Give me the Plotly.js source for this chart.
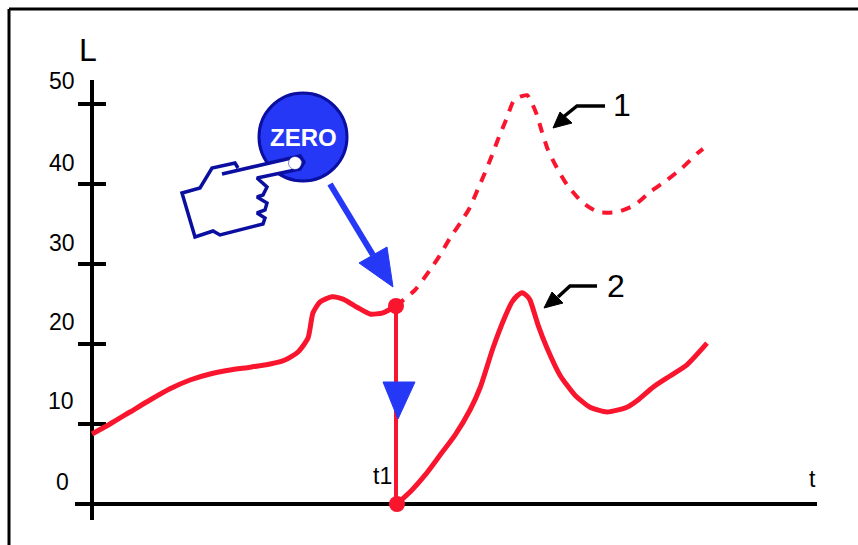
<!DOCTYPE html>
<html>
<head>
<meta charset="utf-8">
<script src="https://cdn.plot.ly/plotly-3.0.1.min.js"></script>
<style>html,body{margin:0;padding:0;background:#fff;overflow:hidden}#c{width:858px;height:545px}</style>
</head>
<body>
<div id="c"></div>
<script>
// Curves: t position and L value
var beforeT = [92,110,130,150,170,190,210,230,250,270,285,298,308,313,320,332,343,357,370,383,396];
var beforeL = [8.75,10,11.5,13,14.4,15.5,16.25,16.75,17.1,17.5,18,19,20.75,23.9,25.25,25.9,25.6,24.6,23.75,23.9,24.75];
var curve1T = [396,415,430,440,450,461,470,478,485,492,499,506,513,517,527,532,537,542,548,557,567,582,598,617,635,650,667,682,698,703];
var curve1L = [24.75,26.75,29.25,31.1,33.25,35.25,37.1,39.4,41.4,43.6,45.9,48,50.25,50.75,51.1,50.1,48.6,46.5,44.25,42,39.9,37.75,36.5,36.5,37.4,39,40.5,42,43.9,44.4];
var curve2T = [397,412,425,440,455,470,480,493,505,512,517,522,527,530,538,547,560,575,590,607,627,638,653,670,687,707];
var curve2L = [0,1.75,3.6,6.1,8.6,11.75,14.5,19.5,23.4,25.25,26,26.4,26,25.5,22.4,19.5,16.1,13.6,12.1,11.5,12.1,13,14.6,16,17.4,20.1];
var t1 = 396;
var t1Top = 24.75;
var tickValues = [10,20,30,40,50];
var tickLabels = ["0","10","20","30","40","50"];
var labelValues = [0,10,20,30,40,50];

// Illustration outlines (page-position overlay)
var handX = [222,300,304,300,257,267,263,257,267,265,257,265,263,220,213,195,182,200,212,235,238,222];
var handY = [174,156,162,169,178,187,195,197,203,210,213,218,224,235,231,237,193,188,168,163,168,174];
var fingerLineX = [222,300,304,300,257,267,263,257,267,265,257,265,263,220,213,195,182,200,212,235,238];
var fingerLineY = [174,156,162,169,178,187,195,197,203,210,213,218,224,235,231,237,193,188,168,163,168];
var arrowShaftX = [330,373];
var arrowShaftY = [184,255];
var arrowHeadX = [359,387,393,359];
var arrowHeadY = [263,247,287,263];
var downHeadX = [383,415,398,383];
var downHeadY = [382,382,419,382];
var ptr1X = [605,577,562];
var ptr1Y = [106,106,118];
var ptr1HeadX = [560,572,553,560];
var ptr1HeadY = [112,123,128,112];
var ptr2X = [597,570,558];
var ptr2Y = [286,286,297];
var ptr2HeadX = [552,563,544,552];
var ptr2HeadY = [292,303,308,292];

var RED = '#f9152d', BLUE = '#2538f5', NAVY = '#0b0f9f', BLACK = '#000';

function overlay(o){ o.xaxis='x'; o.yaxis='y2'; o.hoverinfo='skip'; o.showlegend=false; return o; }
function base(o){ o.hoverinfo='skip'; o.showlegend=false; return o; }
function fillTri(x,y,c){ return overlay({x:x,y:y,mode:'lines',fill:'toself',fillcolor:c,line:{color:c,width:1}}); }

var traces = [
  // axes
  base({x:[92,92],y:[-2,53],mode:'lines',line:{color:BLACK,width:4}}),
  base({x:[75,817],y:[0,0],mode:'lines',line:{color:BLACK,width:4}}),
  base({x:tickValues.map(function(){return 92;}),y:tickValues,mode:'markers',
        marker:{symbol:'line-ew',size:20,line:{color:BLACK,width:4}}}),
  // curves
  base({x:curve1T,y:curve1L,mode:'lines',line:{color:RED,width:4,dash:'10px,9px',shape:'spline',smoothing:0.6}}),
  base({x:beforeT,y:beforeL,mode:'lines',line:{color:RED,width:5,shape:'spline',smoothing:0.6}}),
  base({x:curve2T,y:curve2L,mode:'lines',line:{color:RED,width:5,shape:'spline',smoothing:0.6}}),
  base({x:[t1,t1],y:[t1Top,0],mode:'lines',line:{color:RED,width:4}}),
  base({x:[t1,curve2T[0]],y:[t1Top,0],mode:'markers',marker:{color:RED,size:16}}),
  // button
  overlay({x:[303],y:[137],mode:'markers',marker:{color:BLUE,size:88,line:{color:NAVY,width:3}}}),
  // hand
  overlay({x:handX,y:handY,mode:'lines',fill:'toself',fillcolor:'#fff',line:{color:'rgba(0,0,0,0)',width:0}}),
  overlay({x:fingerLineX,y:fingerLineY,mode:'lines',line:{color:NAVY,width:3.5}}),
  overlay({x:[295],y:[163],mode:'markers',marker:{color:'#fff',size:13,line:{color:NAVY,width:0.5}}}),
  // blue arrows
  overlay({x:arrowShaftX,y:arrowShaftY,mode:'lines',line:{color:BLUE,width:6}}),
  fillTri(arrowHeadX,arrowHeadY,BLUE),
  fillTri(downHeadX,downHeadY,BLUE),
  // black pointers
  overlay({x:ptr1X,y:ptr1Y,mode:'lines',line:{color:BLACK,width:3.5}}),
  fillTri(ptr1HeadX,ptr1HeadY,BLACK),
  overlay({x:ptr2X,y:ptr2Y,mode:'lines',line:{color:BLACK,width:3.5}}),
  fillTri(ptr2HeadX,ptr2HeadY,BLACK)
];

var F = 'Liberation Sans, Arial, sans-serif';
function note(text,x,y,size,color,weight){
  return {text:text,x:x,y:y,xref:'x',yref:'y2',showarrow:false,xanchor:'center',yanchor:'middle',
          font:{family:F,size:size,color:color||BLACK,weight:weight||400}};
}
var annotations = [
  note('L',88,50,32),
  note('t',812,479,23),
  note('t1',382,476,23),
  note('1',622,105,32),
  note('2',616,286,32),
  note('ZERO',303,137,24,'#fff',700)
];
var labelPx = {0:[62,482],10:[61,401],20:[62,322],30:[62,243],40:[62,163],50:[62,81]};
labelValues.forEach(function(v,i){
  annotations.push(note(tickLabels[i],labelPx[v][0],labelPx[v][1],23));
});

var layout = {
  width:858,height:545,
  margin:{l:0,r:0,t:0,b:0,pad:0},
  paper_bgcolor:'#fff',plot_bgcolor:'#fff',
  showlegend:false,
  xaxis:{range:[0,858],visible:false,fixedrange:true},
  yaxis:{range:[-5.125,63],visible:false,fixedrange:true},
  yaxis2:{range:[545,0],visible:false,overlaying:'y',fixedrange:true},
  annotations:annotations,
  shapes:[
    {type:'line',xref:'paper',yref:'paper',x0:9/858,x1:9/858,y0:0,y1:1-9/545,line:{color:BLACK,width:3}},
    {type:'line',xref:'paper',yref:'paper',x0:9/858,x1:1,y0:1-9/545,y1:1-9/545,line:{color:BLACK,width:3}}
  ]
};
Plotly.newPlot('c',traces,layout,{staticPlot:true,displayModeBar:false});
</script>
</body>
</html>
